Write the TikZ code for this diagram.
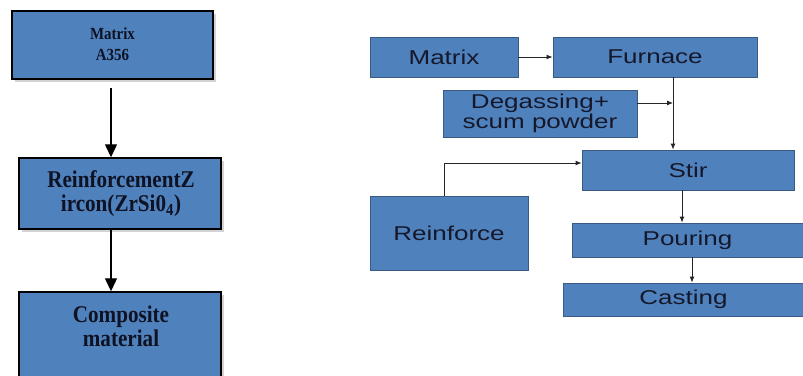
\documentclass[tikz,border=0pt]{standalone}
\usepackage{fontspec}
\setmainfont{Liberation Serif}
\newfontfamily\rfont[FakeStretch=1.3]{Liberation Sans}
\newfontfamily\lfont[FakeStretch=0.88]{Liberation Serif}
\usetikzlibrary{arrows.meta,shadows}
\definecolor{boxblue}{HTML}{4F81BD}
\definecolor{rborder}{HTML}{3A5A82}
\definecolor{rtext}{HTML}{15182A}
\definecolor{ltext}{HTML}{0E1222}
\definecolor{linegray}{HTML}{262626}
\tikzset{
  lbox/.style={draw=black, line width=1.4pt, fill=boxblue, inner sep=0pt,
    drop shadow={shadow xshift=2.5pt, shadow yshift=-2.5pt, opacity=0.35}},
  ltextst/.style={text=ltext, align=center, font=\lfont\bfseries\fontsize{24}{24}\selectfont, inner sep=0pt},
  rbox/.style={draw=rborder, line width=0.8pt, fill=boxblue, inner sep=0pt, align=center,
    text=rtext, font=\rfont\fontsize{20}{19.5}\selectfont},
  larrow/.style={line width=1.2pt, draw=black, -{Triangle[length=13pt,width=12pt]}},
  rarrow/.style={line width=0.9pt, draw=linegray, -{Latex[length=6pt,width=5pt]}}
}
\begin{document}
\begin{tikzpicture}[x=1pt,y=-1pt]
\useasboundingbox (0,0) rectangle (803,375);
% left column
\node[lbox, minimum width=201pt, minimum height=68pt] (mA) at (112.5,45) {};
\node[ltextst, font=\lfont\bfseries\fontsize{17}{21}\selectfont] (mAt) at (112.5,44) {Matrix\\A356};
\node[lbox, minimum width=202pt, minimum height=71pt] (rZ) at (120,193.5) {};
\node[ltextst] (rZt) at (121,194) {ReinforcementZ\\ircon(ZrSi0\textsubscript{4})};
\node[lbox, minimum width=202pt, minimum height=86pt] (cm) at (120,335) {};
\node[ltextst] (cmt) at (121,326) {Composite\\material};
\coordinate (a1) at (111,88);
\coordinate (a2) at (111,229);
\draw[larrow] (a1) -- (a1 |- rZ.north);
\draw[larrow] (a2) -- (a2 |- cm.north);
% right flow
\node[rbox, minimum width=148pt, minimum height=40pt] (M) at (444,57) {Matrix};
\node[rbox, minimum width=204pt, minimum height=40pt] (F) at (655,57) {Furnace};
\node[rbox, minimum width=194pt, minimum height=47pt] (D) at (540,113.5) {Degassing+\\scum powder};
\node[rbox, minimum width=212pt, minimum height=40pt] (S) at (688,170) {Stir};
\node[rbox, minimum width=158pt, minimum height=74pt] (R) at (449,233) {Reinforce};
\node[rbox, minimum width=231pt, minimum height=34pt] (P) at (687.5,240) {Pouring};
\node[rbox, minimum width=241pt, minimum height=33pt] (C) at (683.5,299.5) {Casting};
\coordinate (fs) at (673,77);
\coordinate (dj) at (673,103);
\coordinate (rs) at (444,163);
\coordinate (sp) at (682,190);
\coordinate (pc) at (692,257);
\draw[rarrow] (M.east) -- (F.west);
\draw[rarrow] (fs) -- (fs |- S.north);
\draw[rarrow] (D.east |- dj) -- (dj);
\draw[rarrow] (R.north -| rs) -- (rs) -- (S.west |- rs);
\draw[rarrow] (sp) -- (sp |- P.north);
\draw[rarrow] (pc) -- (pc |- C.north);
\end{tikzpicture}
\end{document}
